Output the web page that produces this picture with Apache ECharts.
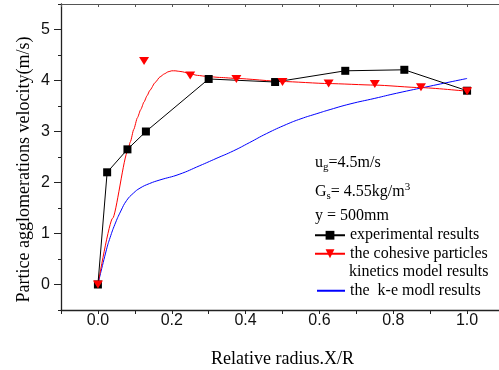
<!DOCTYPE html>
<html>
<head>
<meta charset="utf-8">
<script src="https://cdn.jsdelivr.net/npm/echarts@6/dist/echarts.min.js"></script>
<style>
  html, body { margin: 0; padding: 0; background: #fff; }
  #chart { width: 499px; height: 370px; }
</style>
</head>
<body>
<div id="chart"></div>
<script>
// Experimental agglomeration velocity vs relative radius
const expX = [0, 0.025, 0.08, 0.13, 0.30, 0.48, 0.67, 0.83, 1.0];
const expV = [0, 2.20, 2.65, 3.00, 4.03, 3.97, 4.19, 4.21, 3.80];

// Cohesive particles kinetics model: computed points
const kinPtX = [0, 0.125, 0.25, 0.375, 0.5, 0.625, 0.75, 0.875, 1.0];
const kinPtV = [0, 4.38, 4.10, 4.03, 3.97, 3.94, 3.93, 3.87, 3.79];

// Cohesive particles kinetics model: fitted profile
const kinCurveX = [0, 0.04, 0.08, 0.088, 0.097, 0.107, 0.116, 0.125, 0.133, 0.141, 0.155, 0.168, 0.18, 0.19, 0.2, 0.209, 0.22, 0.23, 0.24, 0.25, 0.27, 0.295, 0.33, 0.376, 0.5, 0.625, 0.75, 0.875, 1.0];
const kinCurveV = [0, 1.30, 2.60, 2.80, 3.04, 3.27, 3.43, 3.58, 3.70, 3.81, 3.96, 4.07, 4.13, 4.17, 4.19, 4.19, 4.18, 4.17, 4.15, 4.13, 4.10, 4.08, 4.06, 4.04, 3.98, 3.94, 3.91, 3.86, 3.79];

// k-e model profile
const keX = [0, 0.023, 0.033, 0.046, 0.062, 0.078, 0.096, 0.114, 0.14, 0.168, 0.22, 0.276, 0.32, 0.367, 0.41, 0.457, 0.511, 0.55, 0.593, 0.629, 0.683, 0.75, 0.809, 0.9, 1.0];
const keV = [0, 0.68, 0.92, 1.18, 1.44, 1.65, 1.79, 1.89, 1.98, 2.05, 2.16, 2.33, 2.47, 2.62, 2.78, 2.96, 3.14, 3.25, 3.35, 3.43, 3.54, 3.65, 3.75, 3.89, 4.04];

// Tick labels
const xTickLabels = ['0.0', '0.2', '0.4', '0.6', '0.8', '1.0'];
const yTickLabels = ['0', '1', '2', '3', '4', '5'];

const seriesNames = {
  exp: 'experimental results',
  kin: 'the cohesive particles',
  kinSub: 'kinetics model results',
  ke: 'the  k-e modl results'
};

const zip = (xs, ys) => xs.map((x, i) => [x, ys[i]]);
const triDown = 'path://M0,0L10,0L5,9Z';
const serif = '"Liberation Serif", "Times New Roman", serif';
const sans = '"Liberation Sans", Arial, sans-serif';

const chart = echarts.init(document.getElementById('chart'));

chart.setOption({
  animation: false,
  backgroundColor: '#fff',
  grid: { left: 61, right: -5, top: 4, bottom: 60, containLabel: false, outerBoundsMode: 'none' },
  xAxis: [
    {
      type: 'value', min: -0.1, max: 1.1, interval: 0.1, position: 'bottom',
      name: 'Relative radius.X/R', nameLocation: 'middle', nameGap: 40,
      nameTextStyle: { fontFamily: serif, fontSize: 18, color: '#000' },
      axisLine: { show: true, onZero: false, lineStyle: { color: '#222', width: 1.3 } },
      axisTick: { show: true, inside: false, length: 4, lineStyle: { color: '#222' } },
      axisLabel: {
        margin: 3, fontFamily: sans, fontSize: 16, color: '#111',
        formatter: v => {
          const t = Math.round(v * 10);
          return (t >= 0 && t % 2 === 0) ? (xTickLabels[t / 2] || '') : '';
        }
      },
      splitLine: { show: false }
    },
    {
      type: 'value', min: -0.1, max: 1.1, interval: 0.1, position: 'top',
      axisLine: { show: true, onZero: false, lineStyle: { color: '#555', width: 1 } },
      axisTick: { show: true, inside: true, length: 3, lineStyle: { color: '#555' } },
      axisLabel: { show: false },
      splitLine: { show: false }
    }
  ],
  yAxis: [
    {
      type: 'value', min: -0.5, max: 5.5, interval: 0.5, position: 'left',
      axisLine: { show: true, onZero: false, lineStyle: { color: '#222', width: 1.3 } },
      axisTick: { show: true, inside: false, length: 3, lineStyle: { color: '#222' } },
      axisLabel: {
        margin: 11, fontFamily: sans, fontSize: 16, color: '#111',
        formatter: v => {
          const r = Math.round(v);
          return (Math.abs(v - r) < 1e-6 && r >= 0) ? (yTickLabels[r] || '') : '';
        }
      },
      splitLine: { show: false }
    },
    {
      // longer ticks at the whole units
      type: 'value', min: -0.5, max: 5.5, interval: 0.5, position: 'left',
      axisLine: { show: false, onZero: false },
      axisTick: { show: true, inside: false, length: 7, customValues: [0, 1, 2, 3, 4, 5], lineStyle: { color: '#222' } },
      axisLabel: { show: false },
      splitLine: { show: false }
    }
  ],
  legend: [
    {
      data: [seriesNames.exp, seriesNames.kin],
      orient: 'vertical', left: 314, top: 226, padding: 0, itemGap: 0,
      itemWidth: 30, itemHeight: 11, selectedMode: false,
      textStyle: { fontFamily: serif, fontSize: 16, color: '#000', lineHeight: 18.5 }
    },
    {
      data: [seriesNames.ke],
      orient: 'vertical', left: 316, top: 281.5, padding: 0, itemGap: 0,
      itemWidth: 28, itemHeight: 11, selectedMode: false,
      itemStyle: { opacity: 0 },
      textStyle: { fontFamily: serif, fontSize: 16, color: '#000', lineHeight: 18.5 }
    }
  ],
  graphic: [
    {
      type: 'text', x: 24, y: 169.5, rotation: Math.PI / 2,
      style: {
        text: 'Partice agglomerations velocity(m/s)',
        font: '18px ' + serif, fill: '#000', align: 'center', verticalAlign: 'middle'
      }
    },
    {
      type: 'text', x: 315, y: 152.5,
      style: {
        text: '{m|u}{sub|g}{m|=4.5m/s}',
        verticalAlign: 'top',
        rich: {
          m: { fontFamily: serif, fontSize: 16, lineHeight: 20, fill: '#000', verticalAlign: 'middle' },
          sub: { fontFamily: serif, fontSize: 11, lineHeight: 11, fill: '#000', verticalAlign: 'bottom' }
        }
      }
    },
    {
      type: 'text', x: 315, y: 182,
      style: {
        text: '{m|G}{sub|s}{m|= 4.55kg/m}{sup|3}',
        verticalAlign: 'top',
        rich: {
          m: { fontFamily: serif, fontSize: 16, lineHeight: 20, fill: '#000', verticalAlign: 'middle' },
          sub: { fontFamily: serif, fontSize: 11, lineHeight: 11, fill: '#000', verticalAlign: 'bottom' },
          sup: { fontFamily: serif, fontSize: 11, lineHeight: 11, fill: '#000', verticalAlign: 'top' }
        }
      }
    },
    {
      type: 'text', x: 315, y: 216,
      style: {
        text: 'y = 500mm', font: '16px ' + serif, fill: '#000', verticalAlign: 'middle'
      }
    },
    {
      type: 'text', x: 349, y: 272.2,
      style: {
        text: seriesNames.kinSub, font: '16px ' + serif, fill: '#000', verticalAlign: 'middle'
      }
    }
  ],
  series: [
    {
      name: seriesNames.ke, type: 'line', xAxisIndex: 0, yAxisIndex: 0,
      data: zip(keX, keV), symbol: 'none', smooth: 0.5, z: 2,
      lineStyle: { color: '#0000ff', width: 1 }, itemStyle: { color: '#0000ff' }
    },
    {
      name: seriesNames.kin, type: 'line', xAxisIndex: 0, yAxisIndex: 0,
      data: zip(kinCurveX, kinCurveV), symbol: triDown, symbolSize: [9, 8],
      showSymbol: false, smooth: 0.2, smoothMonotone: 'x', z: 3,
      lineStyle: { color: '#ff0000', width: 1 }, itemStyle: { color: '#ff0000' }
    },
    {
      name: seriesNames.exp, type: 'line', xAxisIndex: 0, yAxisIndex: 0,
      data: zip(expX, expV), symbol: 'rect', symbolSize: 8, z: 4,
      lineStyle: { color: '#000', width: 1 }, itemStyle: { color: '#000' }
    },
    {
      name: 'model points', type: 'scatter', xAxisIndex: 0, yAxisIndex: 0,
      data: zip(kinPtX, kinPtV), symbol: triDown, symbolSize: [10, 8], z: 5,
      itemStyle: { color: '#ff0000', opacity: 1 }
    }
  ]
});
</script>
</body>
</html>
